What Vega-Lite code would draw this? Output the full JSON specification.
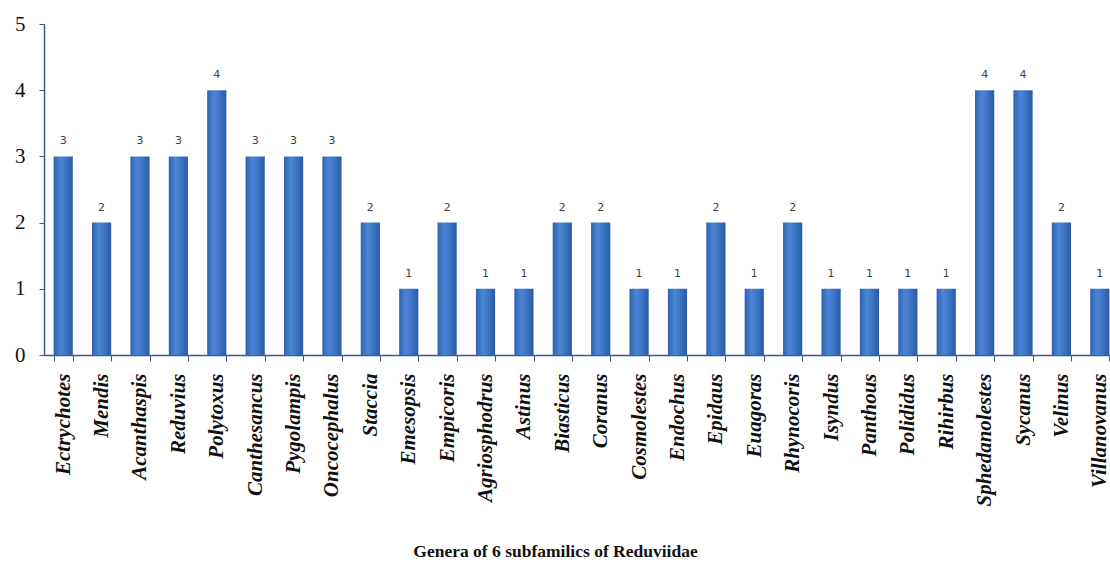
{
  "$schema": "https://vega.github.io/schema/vega-lite/v6.json",
  "width": 1075,
  "height": 331,
  "autosize": "none",
  "padding": {"left": 44, "top": 24, "right": 0, "bottom": 216},
  "background": "white",
  "config": {"view": {"stroke": null}},
  "data": {
    "values": [
      {"genus": "Ectrychotes", "count": 3},
      {"genus": "Mendis", "count": 2},
      {"genus": "Acanthaspis", "count": 3},
      {"genus": "Reduvius", "count": 3},
      {"genus": "Polytoxus", "count": 4},
      {"genus": "Canthesancus", "count": 3},
      {"genus": "Pygolampis", "count": 3},
      {"genus": "Oncocephalus", "count": 3},
      {"genus": "Staccia", "count": 2},
      {"genus": "Emesopsis", "count": 1},
      {"genus": "Empicoris", "count": 2},
      {"genus": "Agriosphodrus", "count": 1},
      {"genus": "Astinus", "count": 1},
      {"genus": "Biasticus", "count": 2},
      {"genus": "Coranus", "count": 2},
      {"genus": "Cosmolestes", "count": 1},
      {"genus": "Endochus", "count": 1},
      {"genus": "Epidaus", "count": 2},
      {"genus": "Euagoras", "count": 1},
      {"genus": "Rhynocoris", "count": 2},
      {"genus": "Isyndus", "count": 1},
      {"genus": "Panthous", "count": 1},
      {"genus": "Polididus", "count": 1},
      {"genus": "Rihirbus", "count": 1},
      {"genus": "Sphedanolestes", "count": 4},
      {"genus": "Sycanus", "count": 4},
      {"genus": "Velinus", "count": 2},
      {"genus": "Villanovanus", "count": 1}
    ]
  },
  "encoding": {
    "x": {
      "field": "genus",
      "type": "nominal",
      "sort": null,
      "scale": {"paddingInner": 0.5, "paddingOuter": 0.25},
      "axis": {
        "title": "Genera of 6 subfamilics of Reduviidae",
        "titleFont": "Liberation Serif",
        "titleFontSize": 17.5,
        "titleFontWeight": "bold",
        "titleColor": "#111111",
        "titleX": 511,
        "titleY": 196,
        "titleBaseline": "middle",
        "titleAnchor": "start",
        "titleAlign": "center",
        "labelAngle": -90,
        "labelFont": "Liberation Serif",
        "labelFontSize": 21,
        "labelFontWeight": "bold",
        "labelFontStyle": "italic",
        "labelColor": "#111111",
        "labelPadding": 12,
        "labelBaseline": "middle",
        "labelAlign": "right",
        "tickBand": "extent",
        "tickSize": 6,
        "tickColor": "#3a5a8c",
        "domainColor": "#3a5a8c",
        "domainWidth": 1.5
      }
    },
    "y": {
      "field": "count",
      "type": "quantitative",
      "scale": {"domain": [0, 5]},
      "axis": {
        "title": null,
        "values": [0, 1, 2, 3, 4, 5],
        "grid": false,
        "labelFont": "Liberation Serif",
        "labelFontSize": 21,
        "labelColor": "#111111",
        "labelPadding": 14,
        "tickSize": 5,
        "tickColor": "#3a5a8c",
        "domainColor": "#3a5a8c",
        "domainWidth": 1.5
      }
    }
  },
  "layer": [
    {
      "mark": {
        "type": "bar",
        "color": {
          "gradient": "linear",
          "x1": 0, "y1": 0, "x2": 1, "y2": 0,
          "stops": [
            {"offset": 0, "color": "#2f62b0"},
            {"offset": 0.35, "color": "#4a86d4"},
            {"offset": 0.6, "color": "#3f78c8"},
            {"offset": 1, "color": "#2a5aa3"}
          ]
        }
      }
    },
    {
      "mark": {
        "type": "text",
        "dy": -15,
        "font": "DejaVu Sans",
        "fontSize": 11,
        "color": "#444444"
      },
      "encoding": {"text": {"field": "count", "type": "quantitative"}}
    }
  ]
}
